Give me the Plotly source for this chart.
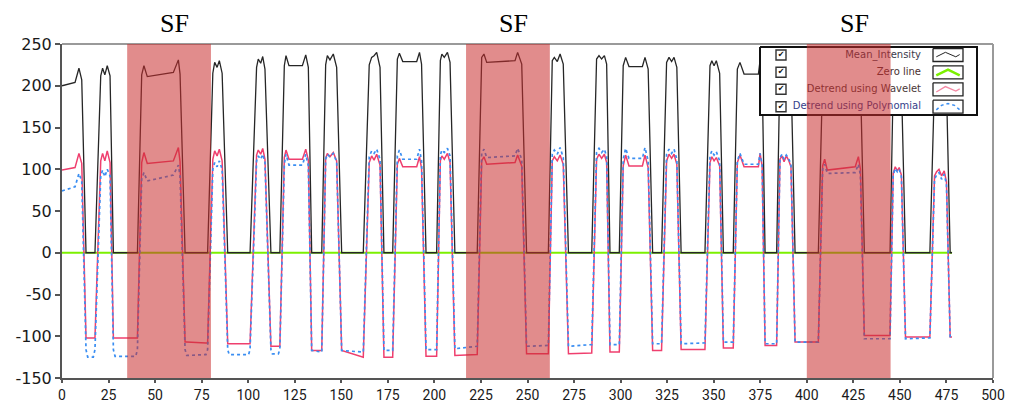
import plotly.graph_objects as go

# ---------------- data ----------------
t = [0, 7, 9.1, 10.6, 12.9, 13.8, 16.8, 17.7, 20.8, 21.8, 23.0, 24.3, 25.8, 27.6, 28.5, 39.6, 40.5,
     42.8, 44.0, 45.8, 59.8, 62.5, 63.4, 66.1, 67.0, 77.3, 78.2, 81.0, 82.0, 83.3, 84.5, 86.0, 89.0,
     89.8, 100.2, 101.0, 104.5, 105.4, 106.7, 107.8, 109.0, 112.2, 113.0, 116.2, 117.0, 119.4, 120.3,
     121.9, 129.1, 130.9, 132.3, 134.1, 139.5, 141.6, 142.5, 143.9, 145.7, 147.5, 150.2, 161.8, 165.0,
     166.3, 167.6, 169.0, 170.8, 172.9, 177.6, 180.1, 181.2, 183.0, 190.5, 192.0, 193.1, 195.5, 201.2,
     203.2, 204.0, 205.3, 207.0, 208.4, 211.0, 223.0, 225.4, 226.6, 228.1, 243.3, 244.7, 246.9, 249.5,
     261.2, 263.3, 264.4, 266.0, 267.5, 269.2, 272.0, 284.5, 287.1, 288.4, 289.8, 291.3, 292.5, 294.3,
     299.3, 301.4, 302.7, 304.5, 311.7, 313.1, 314.8, 317.2, 322.0, 324.7, 326.0, 327.4, 328.7, 330.2,
     332.5, 345.3, 348.0, 349.0, 350.2, 351.4, 353.2, 355.2, 360.5, 362.7, 364.1, 366.3, 374.0, 374.9,
     376.0, 377.6, 383.8, 385.6, 386.7, 387.8, 389.0, 390.2, 391.5, 393.7, 406.2, 408.5, 409.6, 411.0,
     426.0, 427.7, 428.8, 430.9, 444.7, 446.4, 447.5, 448.6, 449.6, 450.8, 453.0, 466.1, 468.6, 469.7,
     471.0, 472.4, 473.8, 475.0, 477.0, 478.0]

mean_intensity = [200, 204, 221, 207, 0, 0, 0, 0, 212, 221, 213, 224, 212, 0, 0, 0, 0,
                  213, 224, 211, 216, 231, 214, 0, 0, 0, 0, 215, 228, 222, 230, 215, 0,
                  0, 0, 0, 222, 232, 227, 235, 220, 0, 0, 0, 0, 224, 236,
                  224, 224, 237, 222, 0, 0, 225, 236, 231, 238, 222, 0, 0, 225,
                  234, 236, 240, 222, 0, 0, 232, 239, 229, 229, 240, 226, 0, 0,
                  230, 238, 234, 240, 228, 0, 0, 234, 238, 228, 230, 240, 226, 0,
                  0, 230, 234, 229, 238, 226, 0, 0, 232, 236, 232, 236, 226, 0,
                  0, 224, 234, 223, 223, 234, 220, 0, 0, 228, 234, 229, 234, 222,
                  0, 0, 224, 230, 224, 230, 215, 0, 0, 220, 228, 214, 214, 230,
                  215, 0, 0, 225, 230, 222, 230, 224, 215, 0, 0, 212, 220, 210,
                  212, 225, 210, 0, 0, 205, 215, 210, 215, 205, 0, 0, 205, 212,
                  215, 208, 214, 200, 0, 0]

wavelet = [99, 102, 119, 107, -102, -102, -102, -102, 110, 119, 110, 122, 108, -102, -102, -102, -102,
           108, 120, 107, 110, 126, 109, -107, -107, -108, -108, 112, 122, 116, 124, 110, -109,
           -109, -109, -109, 117, 123, 118, 125, 112, -112, -112, -112, -112, 114, 123,
           112, 112, 124, 111, -117, -117, 113, 119, 115, 120, 110, -117, -125, 108,
           116, 111, 118, 105, -125, -125, 106, 113, 103, 103, 115, 101, -124, -124,
           110, 116, 112, 119, 108, -123, -122, 110, 115, 106, 108, 117, 104, -121,
           -121, 110, 115, 110, 117, 106, -121, -120, 112, 118, 113, 118, 108, -119,
           -119, 104, 117, 104, 104, 117, 102, -117, -117, 110, 118, 113, 118, 106,
           -116, -116, 108, 115, 110, 114, 104, -114, -114, 108, 117, 103, 103, 119,
           104, -111, -111, 112, 116, 109, 116, 111, 103, -107, -107, 104, 112, 99,
           103, 115, 100, -99, -99, 95, 103, 98, 102, 93, -101, -101, 92, 97,
           100, 92, 98, 85, -101, -101]

polynomial = [74, 79, 95, 86, -116, -125, -125, -116, 92, 99, 91, 100, 92, -116, -124, -124, -116,
              88, 96, 86, 93, 105, 92, -116, -123, -122, -116, 100, 108, 103, 110, 100, -116,
              -122, -122, -116, 110, 116, 112, 118, 108, -116, -121, -121, -116, 106, 118,
              105, 105, 118, 104, -117, -119, 112, 118, 115, 119, 109, -117, -119, 115,
              122, 119, 124, 112, -117, -117, 116, 123, 112, 112, 124, 110, -116, -116,
              117, 123, 120, 125, 116, -115, -112, 119, 124, 114, 116, 125, 112, -112,
              -111, 118, 123, 118, 126, 114, -112, -110, 120, 125, 120, 124, 115, -110,
              -110, 112, 125, 113, 113, 126, 110, -109, -109, 118, 124, 119, 124, 112,
              -109, -108, 116, 122, 117, 121, 110, -107, -107, 110, 119, 106, 106, 119,
              106, -109, -109, 114, 118, 112, 117, 113, 106, -107, -107, 100, 106, 95,
              96, 106, 93, -103, -103, 93, 101, 97, 100, 91, -103, -102, 88, 93,
              96, 88, 94, 82, -102, -103]

zero_x = [0, 478]
zero_y = [0, 0]

x_ticks = list(range(0, 501, 25))
y_ticks = list(range(-150, 251, 50))
x_ticklabels = [str(v) for v in x_ticks]
y_ticklabels = [str(v) for v in y_ticks]   # plain hyphen-minus as in the reference

sf_regions = [(35, 80), (217, 262), (400, 445)]
sf_label = "SF"
legend_labels = ["Mean_Intensity", "Zero line", "Detrend using Wavelet", "Detrend using Polynomial"]

# ---------------- layout helpers (pixel -> data) ----------------
W, H = 1009, 404
ML, MR, MT, MB = 62, 16, 44, 26
XR = (0, 500)
YR = (-150, 250)
PW = W - ML - MR
PH = H - MT - MB


def dx(px):
    return XR[0] + (px - ML) / PW * (XR[1] - XR[0])


def dy(py):
    return YR[1] - (py - MT) / PH * (YR[1] - YR[0])


C_MEAN = "#262626"
C_ZERO = "#7cf000"
C_WAV = "#ef3f6e"
C_POLY = "#3a8ef2"

fig = go.Figure()

fig.add_trace(go.Scatter(x=zero_x, y=zero_y, mode="lines",
                         line=dict(color=C_ZERO, width=2.2), showlegend=False))
fig.add_trace(go.Scatter(x=t, y=wavelet, mode="lines",
                         line=dict(color=C_WAV, width=1.5), showlegend=False))
fig.add_trace(go.Scatter(x=t, y=polynomial, mode="lines",
                         line=dict(color=C_POLY, width=1.7, dash="dot"), showlegend=False))
fig.add_trace(go.Scatter(x=t, y=mean_intensity, mode="lines",
                         line=dict(color=C_MEAN, width=1.3), showlegend=False))

# ---------------- hand-built legend (drawn under the shaded bands) ----------------
bx0, bx1, by0, by1 = 760, 977, 47, 115
fig.add_trace(go.Scatter(x=[dx(bx0), dx(bx1), dx(bx1), dx(bx0), dx(bx0)],
                         y=[dy(by0), dy(by0), dy(by1), dy(by1), dy(by0)],
                         mode="lines", fill="toself", fillcolor="white",
                         line=dict(color="#111", width=2), showlegend=False, cliponaxis=False))
rows = [55, 72.3, 89.3, 106.7]
text_cols = ["#3a3a4a", "#4a3030", "#4a3838", "#34408a"]
fig.add_trace(go.Scatter(x=[dx(921)] * 4, y=[dy(r) for r in rows], mode="text",
                         text=legend_labels, textposition="middle left",
                         textfont=dict(family="DejaVu Sans, Verdana", size=10, color=text_cols),
                         showlegend=False))
fig.add_trace(go.Scatter(x=[dx(781)] * 4, y=[dy(r) for r in rows], mode="markers+text",
                         marker=dict(symbol="square-open", size=10, color="#333",
                                     line=dict(width=1.4, color="#333")),
                         text=["✔"] * 4, textposition="middle center",
                         textfont=dict(family="DejaVu Sans", size=8, color="#111"),
                         showlegend=False))
sw_x0, sw_x1 = 933, 963
glyphs = [
    ([(0.05, 0.7), (0.4, 0.2), (0.8, 0.7), (0.95, 0.45)], C_MEAN, 1, "solid"),
    ([(0.05, 0.85), (0.5, 0.2), (0.95, 0.85)], C_ZERO, 2.5, "solid"),
    ([(0.05, 0.8), (0.4, 0.2), (0.8, 0.7), (0.95, 0.45)], "#f58aa5", 1.3, "solid"),
    ([(0.05, 0.85), (0.25, 0.35), (0.5, 0.15), (0.75, 0.35), (0.95, 0.85)], C_POLY, 1.5, "dot"),
]
for r, (pts, col, wd, dsh) in zip(rows, glyphs):
    t0, t1 = r - 6.5, r + 6.5
    fig.add_trace(go.Scatter(x=[dx(sw_x0), dx(sw_x1), dx(sw_x1), dx(sw_x0), dx(sw_x0)],
                             y=[dy(t0), dy(t0), dy(t1), dy(t1), dy(t0)],
                             mode="lines", fill="toself", fillcolor="white",
                             line=dict(color="#222", width=1.3), showlegend=False))
    fig.add_trace(go.Scatter(x=[dx(sw_x0 + 2 + u * (sw_x1 - sw_x0 - 4)) for u, v in pts],
                             y=[dy(t0 + 2 + v * (t1 - t0 - 4)) for u, v in pts],
                             mode="lines", line=dict(color=col, width=wd, dash=dsh),
                             showlegend=False))

# ---------------- shapes: top/right frame, then shaded bands ----------------
shapes = [
    dict(type="line", xref="paper", yref="paper", x0=0, x1=1, y0=1, y1=1,
         line=dict(color="#9a9a9a", width=2), layer="above"),
    dict(type="line", xref="paper", yref="paper", x0=1, x1=1, y0=0, y1=1,
         line=dict(color="#9a9a9a", width=2), layer="above"),
]
for a, b in sf_regions:
    shapes.append(dict(type="rect", xref="x", yref="paper", x0=a, x1=b, y0=0, y1=1,
                       fillcolor="rgba(200,46,46,0.55)", line=dict(width=0), layer="above"))

annotations = []
for a, b in sf_regions:
    annotations.append(dict(x=(a + b) / 2 + 3, y=1.06, xref="x", yref="paper", text=sf_label,
                            showarrow=False, yanchor="middle",
                            font=dict(family="Liberation Serif, Times New Roman", size=26, color="#000")))

fig.update_layout(
    width=W, height=H,
    margin=dict(l=ML, r=MR, t=MT, b=MB, autoexpand=False),
    paper_bgcolor="white", plot_bgcolor="white",
    shapes=shapes, annotations=annotations,
    showlegend=False,
    xaxis=dict(range=list(XR), tickmode="array", tickvals=x_ticks, ticktext=x_ticklabels,
               ticks="outside", ticklen=3, tickwidth=1.5, automargin=False,
               tickcolor="#555", showline=True, linecolor="#555", linewidth=2,
               showgrid=False, zeroline=False,
               tickfont=dict(family="Roboto, DejaVu Sans", size=14, color="#1a1a1a")),
    yaxis=dict(range=list(YR), tickmode="array", tickvals=y_ticks, ticktext=y_ticklabels,
               ticks="outside", ticklen=5, tickwidth=1.5, automargin=False,
               tickcolor="#555", showline=True, linecolor="#555", linewidth=2,
               showgrid=False, zeroline=False,
               tickfont=dict(family="DejaVu Sans, Verdana", size=16, color="#1a1a1a")),
)

fig.write_html("out.html", config={"displayModeBar": False},
               post_script="document.body.style.margin='0px';document.body.style.overflow='hidden';")
